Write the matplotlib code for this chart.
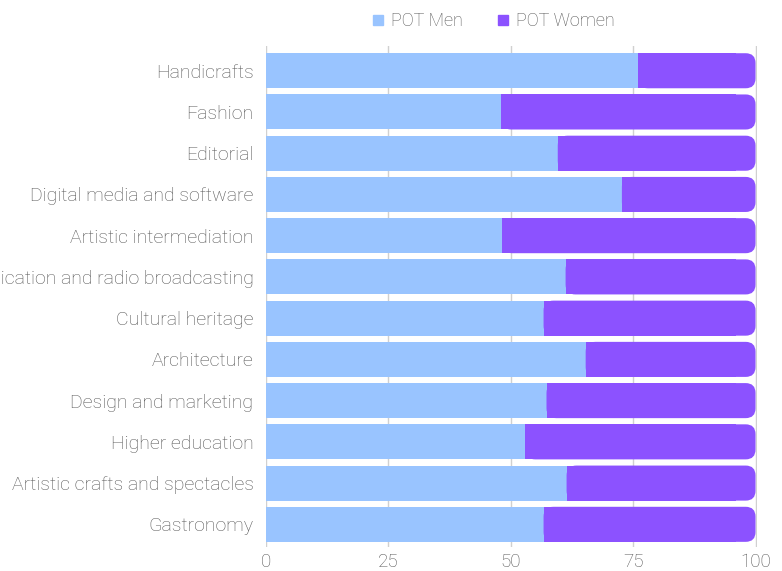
import matplotlib.pyplot as plt
from matplotlib.patches import FancyBboxPatch
from matplotlib.lines import Line2D

categories = [
    "Handicrafts",
    "Fashion",
    "Editorial",
    "Digital media and software",
    "Artistic intermediation",
    "Communication and radio broadcasting",
    "Cultural heritage",
    "Architecture",
    "Design and marketing",
    "Higher education",
    "Artistic crafts and spectacles",
    "Gastronomy",
]
men = [76.0, 48.1, 59.6, 72.7, 48.3, 61.2, 56.7, 65.3, 57.3, 53.0, 61.4, 56.7]
women = [100 - m for m in men]
x_ticks = [0, 25, 50, 75, 100]

men_color = "#99c4ff"
women_color = "#8c52ff"
text_color = "#555555"

plt.rcParams['font.family'] = ['Roboto', 'DejaVu Sans']

fig = plt.figure(figsize=(7.82, 5.71), dpi=100)
ax = fig.add_axes([266 / 782, 1 - 547 / 571, (757 - 266) / 782, (547 - 46) / 571])

y = list(range(len(categories)))
bar_h = 0.85

ax.barh(y, men, height=bar_h, color=men_color, zorder=3)

# women bars: rounded right end, square left end
r_x = 2.0
r_y = 0.24
for yi, m, w in zip(y, men, women):
    box = FancyBboxPatch((m, yi - bar_h / 2), w, bar_h,
                         boxstyle=f"round,pad=0,rounding_size={r_x}",
                         mutation_aspect=r_y / r_x,
                         facecolor=women_color, edgecolor="none", zorder=3)
    ax.add_patch(box)
ax.barh(y, [w - 4 for w in women], left=men, height=bar_h, color=women_color, zorder=3)

ax.set_xlim(0, 100.3)
ax.set_ylim(len(categories) - 0.45, -0.6)
ax.set_yticks(y)
ax.set_yticklabels(categories)
ax.set_xticks(x_ticks)

ax.grid(axis='x', color="#d0d0d0", linewidth=1, zorder=0)
ax.set_axisbelow(True)
for s in ax.spines.values():
    s.set_visible(False)
ax.tick_params(axis='both', length=0, colors=text_color, labelsize=14)
ax.tick_params(axis='x', labelsize=13.5)
ax.tick_params(axis='y', pad=9)
ax.tick_params(axis='x', pad=4)
for lbl in ax.get_xticklabels() + ax.get_yticklabels():
    lbl.set_fontweight('light')

handles = [
    Line2D([], [], marker='s', linestyle='none', markersize=7, color=men_color),
    Line2D([], [], marker='s', linestyle='none', markersize=7, color=women_color),
]
leg = fig.legend(handles, ["POT Men", "POT Women"], loc='center', bbox_to_anchor=(0.631, 1 - 21 / 571),
                 ncol=2, frameon=False, handlelength=0.7, handletextpad=0.35, columnspacing=1.9,
                 prop={'size': 13, 'weight': 'light'})
for t in leg.get_texts():
    t.set_color(text_color)

fig.savefig("out.png", dpi=100)
